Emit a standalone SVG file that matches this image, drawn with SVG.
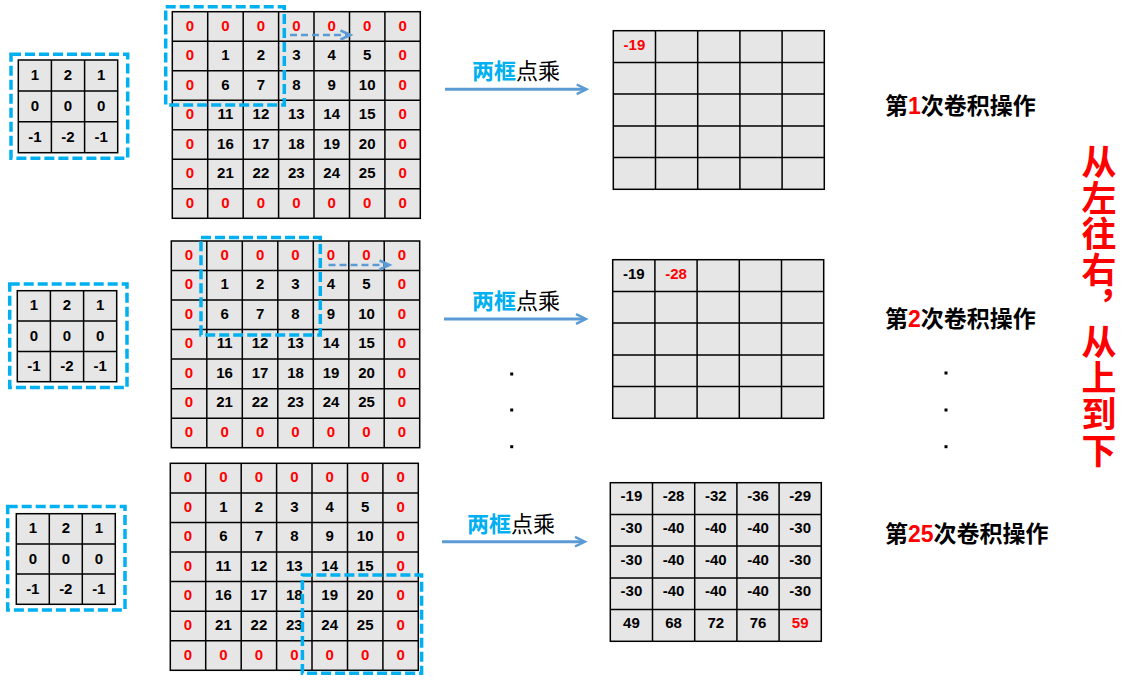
<svg xmlns="http://www.w3.org/2000/svg" width="1128" height="682" viewBox="0 0 1128 682">
<style>
.cell{fill:#E6E6E6;stroke:#000;stroke-width:1.5}
.gl{fill:none;stroke:#000;stroke-width:1.5}
.n{font-family:"Liberation Sans",Arial,sans-serif;font-weight:bold;font-size:15px;text-anchor:middle;fill:#000}
.r{fill:#FF0000}
.dash{fill:none;stroke:#00B0F0;stroke-width:3.5;stroke-dasharray:10 4}
.arr{fill:none;stroke:#5B9BD5;stroke-width:3}
.darr{fill:none;stroke:#5B9BD5;stroke-width:2.5;stroke-dasharray:7 4}
.ah{fill:none;stroke:#5B9BD5;stroke-width:2.5}
.lbl{font-family:"Noto Sans CJK SC",sans-serif;font-size:22px}
.blue{fill:#00B0F0;font-weight:bold}
.step{font-family:"Noto Sans CJK SC",sans-serif;font-size:23px;font-weight:bold;fill:#000}
.dig{font-family:"Liberation Sans",Arial,sans-serif;fill:#FF0000}
.vert{font-family:"Noto Sans CJK SC",sans-serif;font-size:35px;font-weight:bold;fill:#FF0000;writing-mode:vertical-rl;letter-spacing:1.1px}
.dot{fill:#000}
</style>

<!-- ===== Panel 1 ===== -->
<g id="kernel1">
<rect class="cell" x="18.3" y="60" width="99.4" height="92.7"/>
<path class="gl" d="M51.4 60V152.7M84.6 60V152.7M18.3 90.9H117.7M18.3 121.8H117.7"/>
<text class="n" y="80"><tspan x="34.9">1</tspan><tspan x="68">2</tspan><tspan x="101.1">1</tspan></text>
<text class="n" y="110.9"><tspan x="34.9">0</tspan><tspan x="68">0</tspan><tspan x="101.1">0</tspan></text>
<text class="n" y="141.8"><tspan x="34.9">-1</tspan><tspan x="68">-2</tspan><tspan x="101.1">-1</tspan></text>
<rect class="dash" x="11" y="54.3" width="116.7" height="104"/>
</g>

<g id="input1">
<rect class="cell" x="172.3" y="11.7" width="248" height="206.6"/>
<path class="gl" d="M207.7 11.7V218.3M243.2 11.7V218.3M278.6 11.7V218.3M314 11.7V218.3M349.5 11.7V218.3M384.9 11.7V218.3M172.3 41.2H420.3M172.3 70.7H420.3M172.3 100.2H420.3M172.3 129.7H420.3M172.3 159.2H420.3M172.3 188.7H420.3"/>
<text class="n r" y="30.5"><tspan x="190">0</tspan><tspan x="225.4">0</tspan><tspan x="260.9">0</tspan><tspan x="296.3">0</tspan><tspan x="331.7">0</tspan><tspan x="367.2">0</tspan><tspan x="402.6">0</tspan></text>
<text class="n" y="60"><tspan class="r" x="190">0</tspan><tspan x="225.4">1</tspan><tspan x="260.9">2</tspan><tspan x="296.3">3</tspan><tspan x="331.7">4</tspan><tspan x="367.2">5</tspan><tspan class="r" x="402.6">0</tspan></text>
<text class="n" y="89.5"><tspan class="r" x="190">0</tspan><tspan x="225.4">6</tspan><tspan x="260.9">7</tspan><tspan x="296.3">8</tspan><tspan x="331.7">9</tspan><tspan x="367.2">10</tspan><tspan class="r" x="402.6">0</tspan></text>
<text class="n" y="119"><tspan class="r" x="190">0</tspan><tspan x="225.4">11</tspan><tspan x="260.9">12</tspan><tspan x="296.3">13</tspan><tspan x="331.7">14</tspan><tspan x="367.2">15</tspan><tspan class="r" x="402.6">0</tspan></text>
<text class="n" y="148.5"><tspan class="r" x="190">0</tspan><tspan x="225.4">16</tspan><tspan x="260.9">17</tspan><tspan x="296.3">18</tspan><tspan x="331.7">19</tspan><tspan x="367.2">20</tspan><tspan class="r" x="402.6">0</tspan></text>
<text class="n" y="178"><tspan class="r" x="190">0</tspan><tspan x="225.4">21</tspan><tspan x="260.9">22</tspan><tspan x="296.3">23</tspan><tspan x="331.7">24</tspan><tspan x="367.2">25</tspan><tspan class="r" x="402.6">0</tspan></text>
<text class="n r" y="207.5"><tspan x="190">0</tspan><tspan x="225.4">0</tspan><tspan x="260.9">0</tspan><tspan x="296.3">0</tspan><tspan x="331.7">0</tspan><tspan x="367.2">0</tspan><tspan x="402.6">0</tspan></text>
<rect class="dash" x="165.7" y="6.7" width="118.6" height="98.3"/>
</g>

<g id="output1">
<rect class="cell" x="613.3" y="30.7" width="211" height="158.6"/>
<path class="gl" d="M655.5 30.7V189.3M697.7 30.7V189.3M739.9 30.7V189.3M782.1 30.7V189.3M613.3 62.4H824.3M613.3 94.1H824.3M613.3 125.9H824.3M613.3 157.6H824.3"/>
<text class="n r" x="634.4" y="49.5">-19</text>
</g>

<g id="label1">
<text class="lbl" x="472" y="78.5"><tspan class="blue">两框</tspan>点乘</text>
<text class="step" x="885" y="114">第<tspan class="dig">1</tspan>次卷积操作</text>
</g>

<!-- ===== Panel 2 ===== -->
<g id="kernel2">
<rect class="cell" x="17.3" y="290.7" width="99.4" height="91"/>
<path class="gl" d="M50.4 290.7V381.7M83.6 290.7V381.7M17.3 321H116.7M17.3 351.4H116.7"/>
<text class="n" y="310.4"><tspan x="33.9">1</tspan><tspan x="67">2</tspan><tspan x="100.1">1</tspan></text>
<text class="n" y="340.7"><tspan x="33.9">0</tspan><tspan x="67">0</tspan><tspan x="100.1">0</tspan></text>
<text class="n" y="371"><tspan x="33.9">-1</tspan><tspan x="67">-2</tspan><tspan x="100.1">-1</tspan></text>
<rect class="dash" x="9.7" y="284" width="117.3" height="103.6"/>
</g>

<g id="input2">
<rect class="cell" x="171.3" y="241" width="248.4" height="206.7"/>
<path class="gl" d="M206.8 241V447.7M242.3 241V447.7M277.8 241V447.7M313.3 241V447.7M348.8 241V447.7M384.2 241V447.7M171.3 270.5H419.7M171.3 300.1H419.7M171.3 329.6H419.7M171.3 359.1H419.7M171.3 388.7H419.7M171.3 418.2H419.7"/>
<text class="n r" y="259.8"><tspan x="189">0</tspan><tspan x="224.6">0</tspan><tspan x="260.1">0</tspan><tspan x="295.5">0</tspan><tspan x="331">0</tspan><tspan x="366.5">0</tspan><tspan x="402">0</tspan></text>
<text class="n" y="289.3"><tspan class="r" x="189">0</tspan><tspan x="224.6">1</tspan><tspan x="260.1">2</tspan><tspan x="295.5">3</tspan><tspan x="331">4</tspan><tspan x="366.5">5</tspan><tspan class="r" x="402">0</tspan></text>
<text class="n" y="318.8"><tspan class="r" x="189">0</tspan><tspan x="224.6">6</tspan><tspan x="260.1">7</tspan><tspan x="295.5">8</tspan><tspan x="331">9</tspan><tspan x="366.5">10</tspan><tspan class="r" x="402">0</tspan></text>
<text class="n" y="348.3"><tspan class="r" x="189">0</tspan><tspan x="224.6">11</tspan><tspan x="260.1">12</tspan><tspan x="295.5">13</tspan><tspan x="331">14</tspan><tspan x="366.5">15</tspan><tspan class="r" x="402">0</tspan></text>
<text class="n" y="377.9"><tspan class="r" x="189">0</tspan><tspan x="224.6">16</tspan><tspan x="260.1">17</tspan><tspan x="295.5">18</tspan><tspan x="331">19</tspan><tspan x="366.5">20</tspan><tspan class="r" x="402">0</tspan></text>
<text class="n" y="407.4"><tspan class="r" x="189">0</tspan><tspan x="224.6">21</tspan><tspan x="260.1">22</tspan><tspan x="295.5">23</tspan><tspan x="331">24</tspan><tspan x="366.5">25</tspan><tspan class="r" x="402">0</tspan></text>
<text class="n r" y="436.9"><tspan x="189">0</tspan><tspan x="224.6">0</tspan><tspan x="260.1">0</tspan><tspan x="295.5">0</tspan><tspan x="331">0</tspan><tspan x="366.5">0</tspan><tspan x="402">0</tspan></text>
<rect class="dash" x="201" y="237.4" width="119.3" height="97.6"/>
</g>

<g id="output2">
<rect class="cell" x="612.7" y="259.7" width="211" height="158.6"/>
<path class="gl" d="M654.9 259.7V418.3M697.1 259.7V418.3M739.3 259.7V418.3M781.5 259.7V418.3M612.7 291.4H823.7M612.7 323.1H823.7M612.7 354.9H823.7M612.7 386.6H823.7"/>
<text class="n" x="633.8" y="278.5">-19</text>
<text class="n r" x="676" y="278.5">-28</text>
</g>

<g id="label2">
<text class="lbl" x="472" y="308.5"><tspan class="blue">两框</tspan>点乘</text>
<text class="step" x="885" y="327">第<tspan class="dig">2</tspan>次卷积操作</text>
</g>

<g id="ellipsis">
<rect class="dot" x="510.2" y="372.5" width="3" height="3"/>
<rect class="dot" x="510.2" y="408.5" width="3" height="3"/>
<rect class="dot" x="510.2" y="445.2" width="3" height="3"/>
<rect class="dot" x="944.5" y="371.5" width="3" height="3"/>
<rect class="dot" x="944.5" y="408.5" width="3" height="3"/>
<rect class="dot" x="944.5" y="445.2" width="3" height="3"/>
</g>

<!-- ===== Panel 3 ===== -->
<g id="kernel3">
<rect class="cell" x="16.3" y="513.7" width="99" height="90.6"/>
<path class="gl" d="M49.3 513.7V604.3M82.3 513.7V604.3M16.3 543.9H115.3M16.3 574.1H115.3"/>
<text class="n" y="533.3"><tspan x="32.8">1</tspan><tspan x="65.8">2</tspan><tspan x="98.8">1</tspan></text>
<text class="n" y="563.5"><tspan x="32.8">0</tspan><tspan x="65.8">0</tspan><tspan x="98.8">0</tspan></text>
<text class="n" y="593.7"><tspan x="32.8">-1</tspan><tspan x="65.8">-2</tspan><tspan x="98.8">-1</tspan></text>
<rect class="dash" x="7.7" y="506.4" width="117.3" height="103.6"/>
</g>

<g id="input3">
<rect class="cell" x="170.3" y="463.3" width="248" height="207"/>
<path class="gl" d="M205.7 463.3V670.3M241.2 463.3V670.3M276.6 463.3V670.3M312 463.3V670.3M347.5 463.3V670.3M382.9 463.3V670.3M170.3 492.9H418.3M170.3 522.4H418.3M170.3 552H418.3M170.3 581.6H418.3M170.3 611.2H418.3M170.3 640.7H418.3"/>
<text class="n r" y="482.1"><tspan x="188">0</tspan><tspan x="223.4">0</tspan><tspan x="258.9">0</tspan><tspan x="294.3">0</tspan><tspan x="329.7">0</tspan><tspan x="365.2">0</tspan><tspan x="400.6">0</tspan></text>
<text class="n" y="511.6"><tspan class="r" x="188">0</tspan><tspan x="223.4">1</tspan><tspan x="258.9">2</tspan><tspan x="294.3">3</tspan><tspan x="329.7">4</tspan><tspan x="365.2">5</tspan><tspan class="r" x="400.6">0</tspan></text>
<text class="n" y="541.2"><tspan class="r" x="188">0</tspan><tspan x="223.4">6</tspan><tspan x="258.9">7</tspan><tspan x="294.3">8</tspan><tspan x="329.7">9</tspan><tspan x="365.2">10</tspan><tspan class="r" x="400.6">0</tspan></text>
<text class="n" y="570.8"><tspan class="r" x="188">0</tspan><tspan x="223.4">11</tspan><tspan x="258.9">12</tspan><tspan x="294.3">13</tspan><tspan x="329.7">14</tspan><tspan x="365.2">15</tspan><tspan class="r" x="400.6">0</tspan></text>
<text class="n" y="600.4"><tspan class="r" x="188">0</tspan><tspan x="223.4">16</tspan><tspan x="258.9">17</tspan><tspan x="294.3">18</tspan><tspan x="329.7">19</tspan><tspan x="365.2">20</tspan><tspan class="r" x="400.6">0</tspan></text>
<text class="n" y="629.9"><tspan class="r" x="188">0</tspan><tspan x="223.4">21</tspan><tspan x="258.9">22</tspan><tspan x="294.3">23</tspan><tspan x="329.7">24</tspan><tspan x="365.2">25</tspan><tspan class="r" x="400.6">0</tspan></text>
<text class="n r" y="659.5"><tspan x="188">0</tspan><tspan x="223.4">0</tspan><tspan x="258.9">0</tspan><tspan x="294.3">0</tspan><tspan x="329.7">0</tspan><tspan x="365.2">0</tspan><tspan x="400.6">0</tspan></text>
<rect class="dash" x="302.4" y="575" width="119.2" height="98.3"/>
</g>

<g id="output3">
<rect class="cell" x="610.3" y="482.7" width="211" height="158.6"/>
<path class="gl" d="M652.5 482.7V641.3M694.7 482.7V641.3M736.9 482.7V641.3M779.1 482.7V641.3M610.3 514.4H821.3M610.3 546.1H821.3M610.3 577.9H821.3M610.3 609.6H821.3"/>
<text class="n" y="501"><tspan x="631.4">-19</tspan><tspan x="673.6">-28</tspan><tspan x="715.8">-32</tspan><tspan x="758">-36</tspan><tspan x="800.2">-29</tspan></text>
<text class="n" y="532.8"><tspan x="631.4">-30</tspan><tspan x="673.6">-40</tspan><tspan x="715.8">-40</tspan><tspan x="758">-40</tspan><tspan x="800.2">-30</tspan></text>
<text class="n" y="564.5"><tspan x="631.4">-30</tspan><tspan x="673.6">-40</tspan><tspan x="715.8">-40</tspan><tspan x="758">-40</tspan><tspan x="800.2">-30</tspan></text>
<text class="n" y="596.2"><tspan x="631.4">-30</tspan><tspan x="673.6">-40</tspan><tspan x="715.8">-40</tspan><tspan x="758">-40</tspan><tspan x="800.2">-30</tspan></text>
<text class="n" y="628"><tspan x="631.4">49</tspan><tspan x="673.6">68</tspan><tspan x="715.8">72</tspan><tspan x="758">76</tspan><tspan class="r" x="800.2">59</tspan></text>
</g>

<g id="label3">
<text class="lbl" x="467" y="532"><tspan class="blue">两框</tspan>点乘</text>
<text class="step" x="885" y="542">第<tspan class="dig">25</tspan>次卷积操作</text>
</g>

<g id="note">
<text class="vert" x="1099" y="144">从左往右，从上到下</text>
</g>

<!-- ===== Connectors ===== -->
<g id="connectors">
<path class="arr" d="M445 89.3H585"/>
<path class="ah" d="M576.7 84.5L586.5 89.3L576.7 94.1"/>
<path class="arr" d="M444 319H584"/>
<path class="ah" d="M576 314.2L585.8 319L576 323.8"/>
<path class="arr" d="M442 541.7H583"/>
<path class="ah" d="M575 536.9L584.8 541.7L575 546.5"/>
<path class="darr" d="M290 35H348"/>
<path class="ah" d="M340.5 30.5L350.5 35L340.5 39.5"/>
<path class="darr" d="M328.5 265H387"/>
<path class="ah" d="M379.5 260.5L389.5 265L379.5 269.5"/>
</g>
</svg>
